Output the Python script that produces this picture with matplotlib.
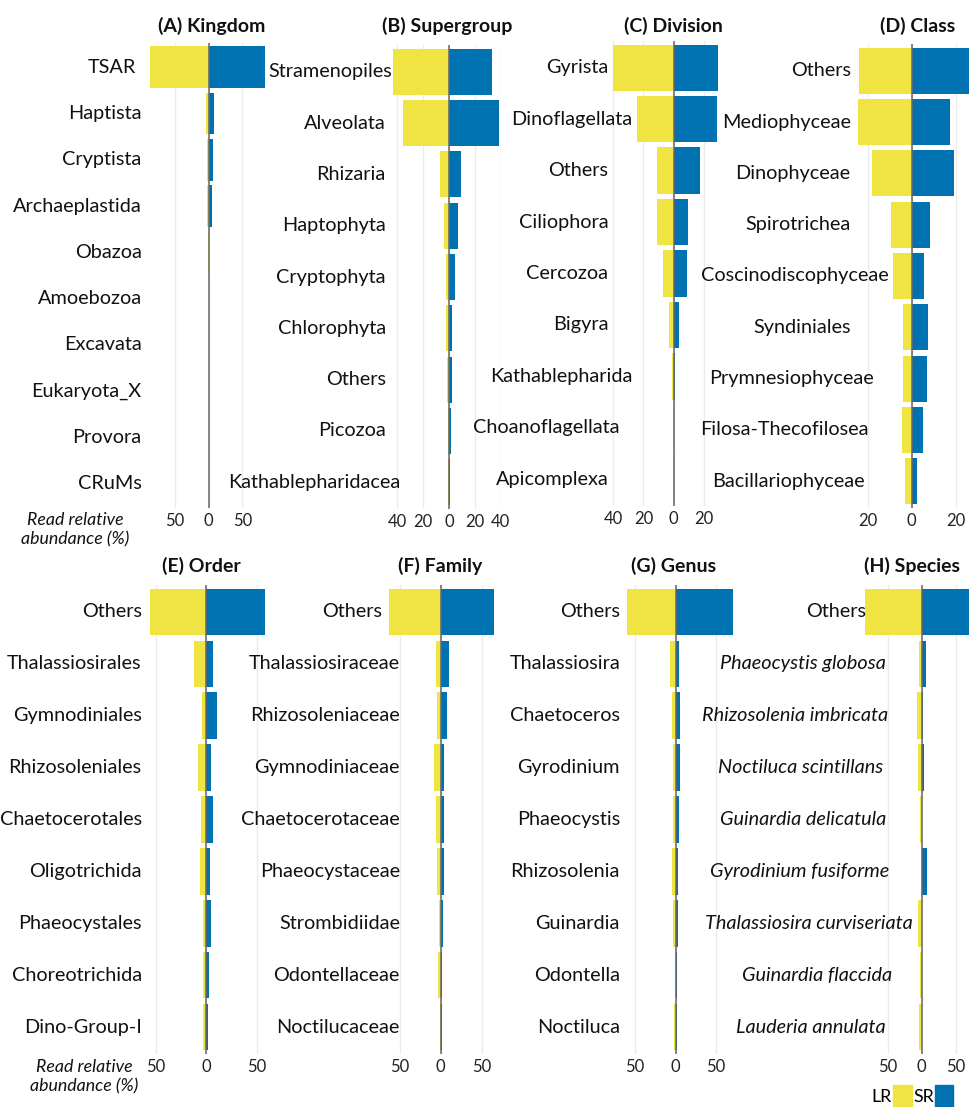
import numpy as np
import matplotlib
matplotlib.use("Agg")
import matplotlib.pyplot as plt
from matplotlib.transforms import blended_transform_factory
from matplotlib.patches import Rectangle

# ---------------- data ----------------
kingdom_labels = ["TSAR", "Haptista", "Cryptista", "Archaeplastida", "Obazoa",
                  "Amoebozoa", "Excavata", "Eukaryota_X", "Provora", "CRuMs"]
kingdom_lr = [87.7, 4.0, 3.0, 2.5, 0.5, 0.2, 0.1, 0.1, 0.05, 0.05]
kingdom_sr = [83.7, 7.4, 6.0, 4.5, 0.5, 0.2, 0.1, 0.1, 0.05, 0.05]

supergroup_labels = ["Stramenopiles", "Alveolata", "Rhizaria", "Haptophyta", "Cryptophyta",
                     "Chlorophyta", "Others", "Picozoa", "Kathablepharidacea"]
supergroup_lr = [43.1, 35.6, 6.7, 3.9, 2.3, 2.3, 1.8, 0.5, 1.0]
supergroup_sr = [33.3, 38.5, 9.3, 7.2, 4.9, 2.6, 2.3, 1.3, 1.0]

division_labels = ["Gyrista", "Dinoflagellata", "Others", "Ciliophora", "Cercozoa",
                   "Bigyra", "Kathablepharida", "Choanoflagellata", "Apicomplexa"]
division_lr = [39.8, 24.0, 11.2, 11.2, 7.0, 3.1, 1.1, 0.3, 0.3]
division_sr = [29.2, 28.3, 17.5, 9.6, 9.0, 3.5, 1.1, 0.3, 0.2]

class_labels = ["Others", "Mediophyceae", "Dinophyceae", "Spirotrichea", "Coscinodiscophyceae",
                "Syndiniales", "Prymnesiophyceae", "Filosa-Thecofilosea", "Bacillariophyceae"]
class_lr = [24.1, 24.5, 18.0, 9.4, 8.4, 4.0, 4.0, 4.3, 2.9]
class_sr = [28.0, 17.5, 19.3, 8.2, 5.8, 7.3, 7.0, 5.2, 2.6]

order_labels = ["Others", "Thalassiosirales", "Gymnodiniales", "Rhizosoleniales", "Chaetocerotales",
                "Oligotrichida", "Phaeocystales", "Choreotrichida", "Dino-Group-I"]
order_lr = [56.3, 11.9, 4.6, 8.3, 5.3, 6.3, 3.3, 3.0, 3.3]
order_sr = [58.4, 6.3, 10.3, 5.0, 6.3, 4.0, 4.6, 2.6, 1.6]

family_labels = ["Others", "Thalassiosiraceae", "Rhizosoleniaceae", "Gymnodiniaceae", "Chaetocerotaceae",
                 "Phaeocystaceae", "Strombidiidae", "Odontellaceae", "Noctilucaceae"]
family_lr = [62.5, 5.7, 4.5, 8.1, 5.7, 4.9, 1.6, 2.8, 1.2]
family_sr = [64.8, 10.1, 7.7, 4.0, 4.4, 3.6, 2.4, 1.2, 1.6]

genus_labels = ["Others", "Thalassiosira", "Chaetoceros", "Gyrodinium", "Phaeocystis",
                "Rhizosolenia", "Guinardia", "Odontella", "Noctiluca"]
genus_lr = [59.8, 7.0, 4.5, 2.9, 2.9, 4.5, 3.3, 1.2, 1.6]
genus_sr = [70.7, 4.1, 5.7, 5.7, 4.5, 2.5, 2.5, 1.6, 2.1]

species_labels = ["Others", "Phaeocystis globosa", "Rhizosolenia imbricata", "Noctiluca scintillans",
                  "Guinardia delicatula", "Gyrodinium fusiforme", "Thalassiosira curviseriata",
                  "Guinardia flaccida", "Lauderia annulata"]
species_lr = [83.3, 3.5, 7.4, 5.0, 2.5, 1.0, 5.0, 2.0, 3.5]
species_sr = [80.0, 6.3, 1.9, 3.4, 1.0, 7.4, 0.5, 0.7, 0.5]

titles = ["(A) Kingdom", "(B) Supergroup", "(C) Division", "(D) Class",
          "(E) Order", "(F) Family", "(G) Genus", "(H) Species"]
series_names = ["LR", "SR"]

# ---------------- style / layout (pixels) ----------------
W, H = 969, 1107
YELLOW = "#F0E442"
BLUE = "#0072B2"
plt.rcParams["font.family"] = ["Lato", "DejaVu Sans"]

layout = [
    dict(x0=208.7, k=0.673, xlim=(-92, 88), top=43, bot=508, ticks=[-50, 0, 50],
         lab_r=141.7, lab_ex={"TSAR": 136}, tx=212, ty=26, italic=False),
    dict(x0=449.0, k=1.2925, xlim=(-45.5, 40.5), top=45, bot=509, ticks=[-40, -20, 0, 20, 40],
         lab_r=385.7, lab_ex={"Stramenopiles": 391.7, "Kathablepharidacea": 400.7},
         tx=447.5, ty=26, italic=False),
    dict(x0=673.7, k=1.517, xlim=(-42, 31), top=41, bot=506, ticks=[-40, -20, 0, 20],
         lab_r=608.3, lab_ex={"Dinoflagellata": 632.3, "Kathablepharida": 632.3,
                              "Choanoflagellata": 620},
         tx=673.7, ty=26, italic=False),
    dict(x0=911.7, k=2.19, xlim=(-26, 30), top=44, bot=508, ticks=[-20, 0, 20],
         lab_r=850.7, lab_ex={"Coscinodiscophyceae": 888.3, "Prymnesiophyceae": 874.3,
                              "Filosa-Thecofilosea": 868.3, "Bacillariophyceae": 865},
         tx=917.5, ty=26, italic=False),
    dict(x0=206.3, k=1.007, xlim=(-59, 61), top=585, bot=1054, ticks=[-50, 0, 50],
         lab_r=141.7, lab_ex={}, tx=201, ty=566, italic=False),
    dict(x0=440.7, k=0.823, xlim=(-66, 68), top=585, bot=1054, ticks=[-50, 0, 50],
         lab_r=400, lab_ex={"Others": 381.7}, tx=439.7, ty=566, italic=False),
    dict(x0=675.7, k=0.81, xlim=(-63, 74), top=585, bot=1054, ticks=[-50, 0, 50],
         lab_r=620, lab_ex={}, tx=674, ty=566, italic=False),
    dict(x0=921.7, k=0.677, xlim=(-87, 84), top=585, bot=1054, ticks=[-50, 0, 50],
         lab_r=886, lab_ex={"Others": 865.7, "Rhizosolenia imbricata": 888.3,
                            "Noctiluca scintillans": 883.3, "Gyrodinium fusiforme": 889.3,
                            "Thalassiosira curviseriata": 912.7, "Guinardia flaccida": 891.7},
         tx=912, ty=566, italic=True),
]

panels = [
    (kingdom_labels, kingdom_lr, kingdom_sr),
    (supergroup_labels, supergroup_lr, supergroup_sr),
    (division_labels, division_lr, division_sr),
    (class_labels, class_lr, class_sr),
    (order_labels, order_lr, order_sr),
    (family_labels, family_lr, family_sr),
    (genus_labels, genus_lr, genus_sr),
    (species_labels, species_lr, species_sr),
]

fig = plt.figure(figsize=(W / 100, H / 100), dpi=100)
fig.patch.set_facecolor("white")

for (labels, lr, sr), lay, title in zip(panels, layout, titles):
    lo, hi = lay["xlim"]
    left = lay["x0"] + lo * lay["k"]
    right = lay["x0"] + hi * lay["k"]
    ax = fig.add_axes([left / W, 1 - lay["bot"] / H, (right - left) / W,
                       (lay["bot"] - lay["top"]) / H])
    ax.set_facecolor("none")
    n = len(labels)
    y = np.arange(n)
    ax.barh(y, -np.asarray(lr), height=0.9, color=YELLOW, zorder=2)
    ax.barh(y, np.asarray(sr), height=0.9, color=BLUE, zorder=2)
    ax.axvline(0, color="#666666", lw=1.1, zorder=3)
    ax.set_xlim(lo, hi)
    ax.set_ylim(n - 1 + 0.52, -0.52)
    ax.set_xticks(lay["ticks"])
    ax.set_xticklabels([f"{abs(t):d}" for t in lay["ticks"]])
    ax.tick_params(axis="x", length=0, pad=3.5, labelsize=12, labelcolor="#222222")
    ax.set_yticks([])
    ax.xaxis.grid(True, color="#EBEBEB", lw=1.0, zorder=0)
    ax.set_axisbelow(True)
    for s in ax.spines.values():
        s.set_visible(False)
    tr = blended_transform_factory(fig.transFigure, ax.transData)
    for i, lab in enumerate(labels):
        xr = lay["lab_ex"].get(lab, lay["lab_r"])
        st = "italic" if (lay["italic"] and lab != "Others") else "normal"
        ax.text(xr / W, i, lab, transform=tr, ha="right", va="center",
                fontsize=14.3, style=st, color="#111111", clip_on=False)
    fig.text(lay["tx"] / W, 1 - lay["ty"] / H, title, ha="center", va="center",
             fontsize=14, fontweight="bold", color="#111111")

# axis caption
for cx, cy in [(75, 530), (84.3, 1077)]:
    fig.text(cx / W, 1 - cy / H, "Read relative\nabundance (%)", ha="center", va="center",
             fontsize=12.8, style="italic", linespacing=1.25, color="#111111")

# legend
fig.text(881.7 / W, 1 - 1097 / H, series_names[0], ha="center", va="center", fontsize=12.8)
fig.text(924 / W, 1 - 1097 / H, series_names[1], ha="center", va="center", fontsize=12.8)
fig.patches.append(Rectangle((893.3 / W, 0), 18.4 / W, (1107 - 1084.7) / H,
                             transform=fig.transFigure, color=YELLOW, figure=fig))
fig.patches.append(Rectangle((935 / W, 0), 18.4 / W, (1107 - 1084.7) / H,
                             transform=fig.transFigure, color=BLUE, figure=fig))

fig.savefig("out.png", dpi=100)
